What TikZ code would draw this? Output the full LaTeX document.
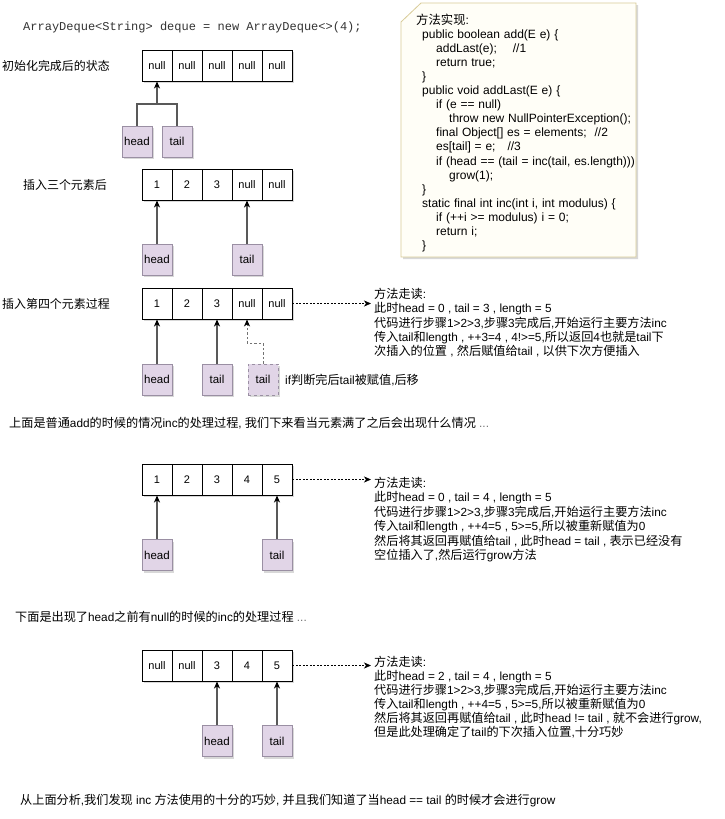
\documentclass[tikz,border=0pt]{standalone}
\usepackage{fontspec}
\setmainfont{Liberation Sans}
\newfontfamily\cjk[Scale=1.03]{Noto Sans CJK SC}
\newfontfamily\monof{Liberation Mono}
\newfontfamily\codef[WordSpace=1.15]{Liberation Sans}
\usetikzlibrary{arrows.meta,shadows}
\definecolor{ptrfill}{HTML}{E1D5E7}
\definecolor{ptrdraw}{HTML}{9A8FA3}
\definecolor{notefill}{HTML}{FFFEF7}
\definecolor{notedraw}{HTML}{D8CB97}
\newcommand\zh[1]{{\cjk #1}}
\tikzset{
  every node/.style={font=\fontsize{11.8}{14}\selectfont},
  shad/.style={drop shadow={shadow xshift=2pt, shadow yshift=-2pt, opacity=0.3}},
  cell/.style={draw=black, fill=white, line width=0.9pt, minimum width=30pt, minimum height=31pt, inner sep=0pt, font=\fontsize{11}{13}\selectfont, shad},
  ptr/.style={draw=ptrdraw, fill=ptrfill, line width=0.8pt, minimum width=30pt, minimum height=31pt, inner sep=0pt, font=\fontsize{11.5}{13}\selectfont, shad},
  ptrdash/.style={ptr, dashed},
  txt/.style={anchor=base west, inner sep=0pt},
  code/.style={txt, font=\codef\fontsize{12}{14}\selectfont},
  lbl/.style={txt, font=\fontsize{11.6}{13}\selectfont},
  pline/.style={draw=black!65, line width=1.2pt},
  parr/.style={pline, -{Stealth[length=7pt,width=6pt,inset=2pt,color=black]}},
  pdash/.style={draw=black!55, line width=1pt, dash pattern=on 2.5pt off 2pt, -{Stealth[length=7pt,width=6pt,inset=2pt,color=black]}},
  darr/.style={draw=black, line width=0.7pt, dash pattern=on 2pt off 1.5pt, -{Stealth[length=7pt,width=6pt,inset=2pt]}},
}
\newcommand\drawrow[3]{%
  \foreach \v [count=\i] in {#3} {
    \node[cell] (#1\i) at ({127+30*\i}, {#2+15.5}) {\v};
  }}
\begin{document}
\begin{tikzpicture}[x=1pt,y=-1pt]
\useasboundingbox[fill=white] (0,0) rectangle (724,819);

% title code line
\node[txt, font=\monof\fontsize{12}{14}\selectfont, text=black!80] (title) at (23,30) {ArrayDeque<String> deque = new ArrayDeque<>(4);};

% code note
\path[draw=notedraw, fill=notefill, line width=0.8pt, shad] (421,3) -- (636,3) -- (636,257) -- (401,257) -- (401,22) -- cycle;
\node[code] (c0) at (416,24) {\zh{方法实现}:};
\node[code] (c1) at (422,{24+14.1*1}) {public boolean add(E e) \{};
\node[code] (c2) at (436,{24+14.1*2}) {addLast(e);\hspace{16pt}//1};
\node[code] (c3) at (436,{24+14.1*3}) {return true;};
\node[code] (c4) at (422,{24+14.1*4}) {\}};
\node[code] (c5) at (422,{24+14.1*5}) {public void addLast(E e) \{};
\node[code] (c6) at (436,{24+14.1*6}) {if (e == null)};
\node[code] (c7) at (449,{24+14.1*7}) {throw new NullPointerException();};
\node[code] (c8) at (436,{24+14.1*8}) {final Object[] es = elements;\hspace{8pt}//2};
\node[code] (c9) at (436,{24+14.1*9}) {es[tail] = e;\hspace{12pt}//3};
\node[code] (c10) at (436,{24+14.1*10}) {if (head == (tail = inc(tail, es.length)))};
\node[code] (c11) at (449,{24+14.1*11}) {grow(1);};
\node[code] (c12) at (422,{24+14.1*12}) {\}};
\node[code] (c13) at (422,{24+14.1*13}) {static final int inc(int i, int modulus) \{};
\node[code] (c14) at (436,{24+14.1*14}) {if (++i >= modulus) i = 0;};
\node[code] (c15) at (436,{24+14.1*15}) {return i;};
\node[code] (c16) at (422,{24+14.1*16}) {\}};

% row labels
\node[lbl] (l1) at (2,70.5) {\zh{初始化完成后的状态}};
\node[lbl] (l2) at (23,189.5) {\zh{插入三个元素后}};
\node[lbl] (l3) at (2,308.5) {\zh{插入第四个元素过程}};

% row 1
\drawrow{ra}{50}{null,null,null,null,null}
\node[ptr] (h1) at (137,141.5) {head};
\node[ptr] (t1) at (177,141.5) {tail};
\coordinate (j1) at (157,104);
\draw[pline] (h1.north) |- (j1) -| (t1.north);
\draw[parr] (j1) -- (ra1.south);

% row 2
\drawrow{rb}{169}{1,2,3,null,null}
\node[ptr] (h2) at (157,259.5) {head};
\node[ptr] (t2) at (247,259.5) {tail};
\draw[parr] (h2.north) -- (rb1.south);
\draw[parr] (t2.north) -- (rb4.south);

% row 3
\drawrow{rc}{288}{1,2,3,null,null}
\node[ptr] (h3) at (157,379.5) {head};
\node[ptr] (t3) at (217,379.5) {tail};
\node[ptrdash] (t3n) at (263,379.5) {tail};
\draw[parr] (h3.north) -- (rc1.south);
\draw[parr] (t3.north) -- (rc3.south);
\coordinate (k3) at (263,343);
\draw[pdash] (t3n.north) -- (k3) -| (rc4.south);
\node[txt] (note3) at (285,384.5) {if\zh{判断完后}tail\zh{被赋值},\zh{后移}};
\coordinate (e3) at (371,303.5);
\draw[darr] (rc5.east) -- (e3);
\node[txt] (b1a) at (374,298.5) {\zh{方法走读}:};
\node[txt] (b1b) at (374,312.8) {\zh{此时}head = 0 , tail = 3 , length = 5};
\node[txt] (b1c) at (374,327.1) {\zh{代码进行步骤}1>2>3,\zh{步骤}3\zh{完成后},\zh{开始运行主要方法}inc};
\node[txt] (b1d) at (374,341.4) {\zh{传入}tail\zh{和}length , ++3=4 , 4!>=5,\zh{所以返回}4\zh{也就是}tail\zh{下}};
\node[txt] (b1e) at (374,355.7) {\zh{次插入的位置} , \zh{然后赋值给}tail , \zh{以供下次方便插入}};

% separator 1
\node[txt] (s1) at (9,427.5) {\zh{上面是普通}add\zh{的时候的情况}inc\zh{的处理过程}, \zh{我们下来看当元素满了之后会出现什么情况} {\color{black!55}...}};

% row 4
\drawrow{rd}{464}{1,2,3,4,5}
\node[ptr] (h4) at (157,555) {head};
\node[ptr] (t4) at (277,555) {tail};
\draw[parr] (h4.north) -- (rd1.south);
\draw[parr] (t4.north) -- (rd5.south);
\coordinate (e4) at (371,479.5);
\draw[darr] (rd5.east) -- (e4);
\node[txt] (b2a) at (374,487.5) {\zh{方法走读}:};
\node[txt] (b2b) at (374,501.9) {\zh{此时}head = 0 , tail = 4 , length = 5};
\node[txt] (b2c) at (374,516.3) {\zh{代码进行步骤}1>2>3,\zh{步骤}3\zh{完成后},\zh{开始运行主要方法}inc};
\node[txt] (b2d) at (374,530.7) {\zh{传入}tail\zh{和}length , ++4=5 , 5>=5,\zh{所以被重新赋值为}0};
\node[txt] (b2e) at (374,545.1) {\zh{然后将其返回再赋值给}tail , \zh{此时}head = tail , \zh{表示已经没有}};
\node[txt] (b2f) at (374,559.5) {\zh{空位插入了},\zh{然后运行}grow\zh{方法}};

% separator 2
\node[txt] (s2) at (15,621.5) {\zh{下面是出现了}head\zh{之前有}null\zh{的时候的}inc\zh{的处理过程} {\color{black!55}...}};

% row 5
\drawrow{re}{650}{null,null,3,4,5}
\node[ptr] (h5) at (217,741) {head};
\node[ptr] (t5) at (277,741) {tail};
\draw[parr] (h5.north) -- (re3.south);
\draw[parr] (t5.north) -- (re5.south);
\coordinate (e5) at (371,665.5);
\draw[darr] (re5.east) -- (e5);
\node[txt] (b3a) at (374,666) {\zh{方法走读}:};
\node[txt] (b3b) at (374,680.1) {\zh{此时}head = 2 , tail = 4 , length = 5};
\node[txt] (b3c) at (374,694.2) {\zh{代码进行步骤}1>2>3,\zh{步骤}3\zh{完成后},\zh{开始运行主要方法}inc};
\node[txt] (b3d) at (374,708.3) {\zh{传入}tail\zh{和}length , ++4=5 , 5>=5,\zh{所以被重新赋值为}0};
\node[txt] (b3e) at (374,722.4) {\zh{然后将其返回再赋值给}tail , \zh{此时}head != tail , \zh{就不会进行}grow,};
\node[txt] (b3f) at (374,736.5) {\zh{但是此处理确定了}tail\zh{的下次插入位置},\zh{十分巧妙}};

% bottom
\node[txt] (s3) at (20,804.5) {\zh{从上面分析},\zh{我们发现} inc \zh{方法使用的十分的巧妙}, \zh{并且我们知道了当}head == tail \zh{的时候才会进行}grow};
\end{tikzpicture}
\end{document}
